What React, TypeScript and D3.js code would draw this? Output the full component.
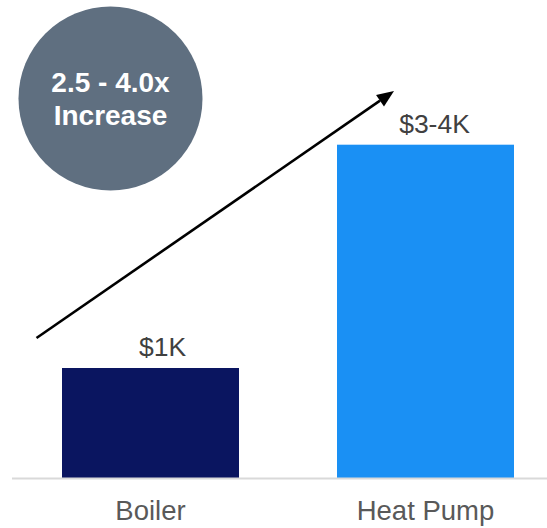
import React from "react";
import * as d3 from "d3";

// Installed cost per system, in thousands of dollars
const categories = ["Boiler", "Heat Pump"];
const costs = [1, 3.03];
const valueLabels = ["$1K", "$3-4K"];
const barColors = ["#0A1560", "#1A90F4"];
const badgeLines = ["2.5 - 4.0x", "Increase"];

const W = 547;
const H = 528;
const FONT = "'Liberation Sans', Arial, Helvetica, sans-serif";

export default function App() {
  const x = d3.scaleBand<string>().domain(categories).range([62, 514]).paddingInner(0.3564).paddingOuter(0);
  const y = d3.scaleLinear().domain([0, 1]).range([478, 368]);

  // trend arrow from below the first bar up towards the second
  const arrowStart: [number, number] = [36.5, 338];
  const arrowEnd: [number, number] = [394, 91];
  const ang = Math.atan2(arrowEnd[1] - arrowStart[1], arrowEnd[0] - arrowStart[0]);
  const headLen = 17;
  const headHalf = 7;
  const bx = arrowEnd[0] - headLen * Math.cos(ang);
  const by = arrowEnd[1] - headLen * Math.sin(ang);
  const px = -Math.sin(ang) * headHalf;
  const py = Math.cos(ang) * headHalf;
  const head = `M${arrowEnd[0]},${arrowEnd[1]} L${bx + px},${by + py} L${bx - px},${by - py} Z`;
  const line = d3.line()([arrowStart, [bx, by]]) as string;

  return (
    <svg
      width={W}
      height={H}
      style={{ position: "absolute", left: 0, top: 0, background: "#fff" }}
      fontFamily={FONT}
    >
      {categories.map((c, i) => (
        <g key={c}>
          <rect
            x={x(c)}
            y={y(costs[i])}
            width={x.bandwidth()}
            height={y(0) - y(costs[i])}
            fill={barColors[i]}
          />
          <text
            x={(x(c) as number) + x.bandwidth() / 2 + (i === 0 ? 12 : 9)}
            y={y(costs[i]) - 12}
            textAnchor="middle"
            fontSize={26.5}
            fill="#404040"
          >
            {valueLabels[i]}
          </text>
          <text
            x={(x(c) as number) + x.bandwidth() / 2}
            y={520}
            textAnchor="middle"
            fontSize={27.5}
            fill="#595959"
          >
            {c}
          </text>
        </g>
      ))}
      <line x1={12} x2={W} y1={y(0) + 0.5} y2={y(0) + 0.5} stroke="#d9d9d9" strokeWidth={2} />

      <path d={line} stroke="#000" strokeWidth={2.6} fill="none" />
      <path d={head} fill="#000" />

      <circle cx={110.5} cy={98.5} r={92} fill="#5F6F80" />
      {badgeLines.map((t, i) => (
        <text
          key={t}
          x={110.5}
          y={92 + i * 33}
          textAnchor="middle"
          fontSize={28}
          fontWeight="bold"
          fill="#fff"
        >
          {t}
        </text>
      ))}
    </svg>
  );
}
